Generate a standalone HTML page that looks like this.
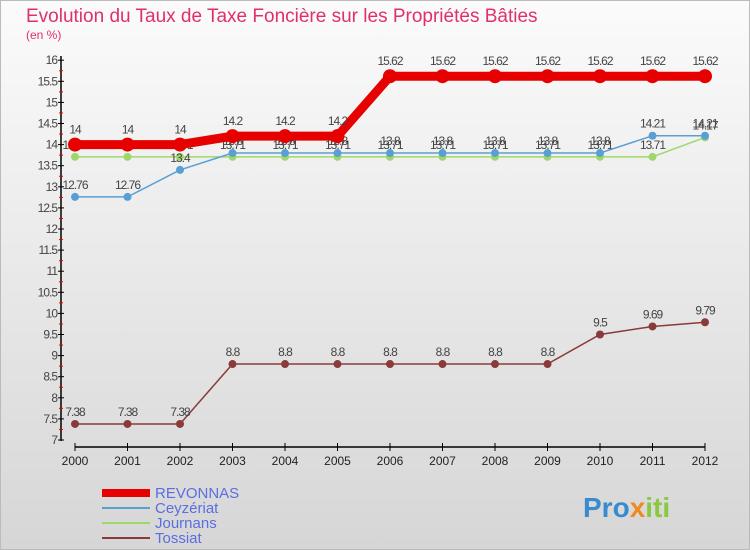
<!DOCTYPE html>
<html><head><meta charset="utf-8"><style>
body{margin:0;width:750px;height:550px;overflow:hidden;font-family:"Liberation Sans",sans-serif}
#wrap{position:absolute;left:0;top:0;width:748px;height:548px;border:1px solid #bbb;background:linear-gradient(#fbfbfb,#d6d6d6)}
</style></head><body>
<div id="wrap">
<svg id="chart" width="750" height="550" style="position:absolute;left:-1px;top:-1px">
<text x="26" y="22" font-size="19" fill="#e0306a">Evolution du Taux de Taxe Foncière sur les Propriétés Bâties</text>
<text x="26" y="39" font-size="12" fill="#e0306a">(en %)</text>
<g id="axes"></g><g id="series"></g>
<g>
<line x1="102" y1="493" x2="150" y2="493" stroke="#e60000" stroke-width="8"/>
<text x="155" y="498" font-size="15" fill="#5a6ee0">REVONNAS</text>
<line x1="102" y1="508" x2="150" y2="508" stroke="#5a9fd4" stroke-width="2"/>
<text x="155" y="513" font-size="15" fill="#5a6ee0">Ceyzériat</text>
<line x1="102" y1="523" x2="150" y2="523" stroke="#9fd86a" stroke-width="2"/>
<text x="155" y="528" font-size="15" fill="#5a6ee0">Journans</text>
<line x1="102" y1="538" x2="150" y2="538" stroke="#8a3a3a" stroke-width="2"/>
<text x="155" y="543" font-size="15" fill="#5a6ee0">Tossiat</text>
</g>
<text x="583" y="517" font-size="28" font-weight="bold" fill="#3a8ad0">Pro<tspan fill="#f08a20">x</tspan><tspan fill="#8ac840">iti</tspan></text>
</svg></div>
<script>
const years=[2000,2001,2002,2003,2004,2005,2006,2007,2008,2009,2010,2011,2012];
const revonnas=[14,14,14,14.2,14.2,14.2,15.62,15.62,15.62,15.62,15.62,15.62,15.62];
const ceyzeriat=[12.76,12.76,13.4,13.8,13.8,13.8,13.8,13.8,13.8,13.8,13.8,14.21,14.21];
const journans=[13.71,13.71,13.71,13.71,13.71,13.71,13.71,13.71,13.71,13.71,13.71,13.71,14.17];
const tossiat=[7.38,7.38,7.38,8.8,8.8,8.8,8.8,8.8,8.8,8.8,9.5,9.69,9.79];
const yTicks=[7,7.5,8,8.5,9,9.5,10,10.5,11,11.5,12,12.5,13,13.5,14,14.5,15,15.5,16];
const NS="http://www.w3.org/2000/svg";
const xS=i=>75+i*52.5, yS=v=>440-(v-7)*42.2;
function mk(tag,at,parent){const e=document.createElementNS(NS,tag);for(const k in at)e.setAttribute(k,at[k]);parent.appendChild(e);return e;}
const ax=document.getElementById('axes'), se=document.getElementById('series');
let l=mk('line',{x1:61,y1:56,x2:61,y2:441,stroke:'#000','stroke-width':1.5},ax);


l=mk('line',{x1:75,y1:447,x2:705,y2:447,stroke:'#000','stroke-width':1.5},ax);


yTicks.forEach(v=>{const y=yS(v);
 mk('line',{x1:58,y1:y,x2:64,y2:y,stroke:'#000'},ax);
 mk('line',{x1:59,y1:y+10.55,x2:63,y2:y+10.55,stroke:v>7?'#e00':'none'},ax);
 const t=mk('text',{x:57,y:y+4,'font-size':12,'text-anchor':'end',fill:'#444','letter-spacing':'-1'},ax);t.textContent=v;
 
 });
years.forEach((yr,i)=>{const x=xS(i);
 mk('line',{x1:x,y1:443,x2:x,y2:451,stroke:'#000'},ax);
 const t=mk('text',{x:x,y:465,'font-size':12,'text-anchor':'middle',fill:'#222'},ax);t.textContent=yr;
 
 });
function series(vals,color,w,r,name,dy){
 const p=mk('polyline',{points:vals.map((v,i)=>xS(i)+','+yS(v)).join(' '),fill:'none',stroke:color,'stroke-width':w},se);
 
 
 vals.forEach((v,i)=>{const c=mk('circle',{cx:xS(i),cy:yS(v),r:r,fill:color},se);
  
  
  const t=mk('text',{x:xS(i),y:yS(v)+dy,'font-size':12,'text-anchor':'middle',fill:'#444','letter-spacing':'-1'},se);
  t.textContent=String(v);
  
  });
}
series(tossiat,'#8a3a3a',1.5,4,'tossiat',-8);
series(journans,'#9fd86a',1.5,4,'journans',-8);
series(ceyzeriat,'#5a9fd4',1.5,4,'ceyzeriat',-8);
series(revonnas,'#e60000',9,7,'revonnas',-11);
</script>
</body></html>
